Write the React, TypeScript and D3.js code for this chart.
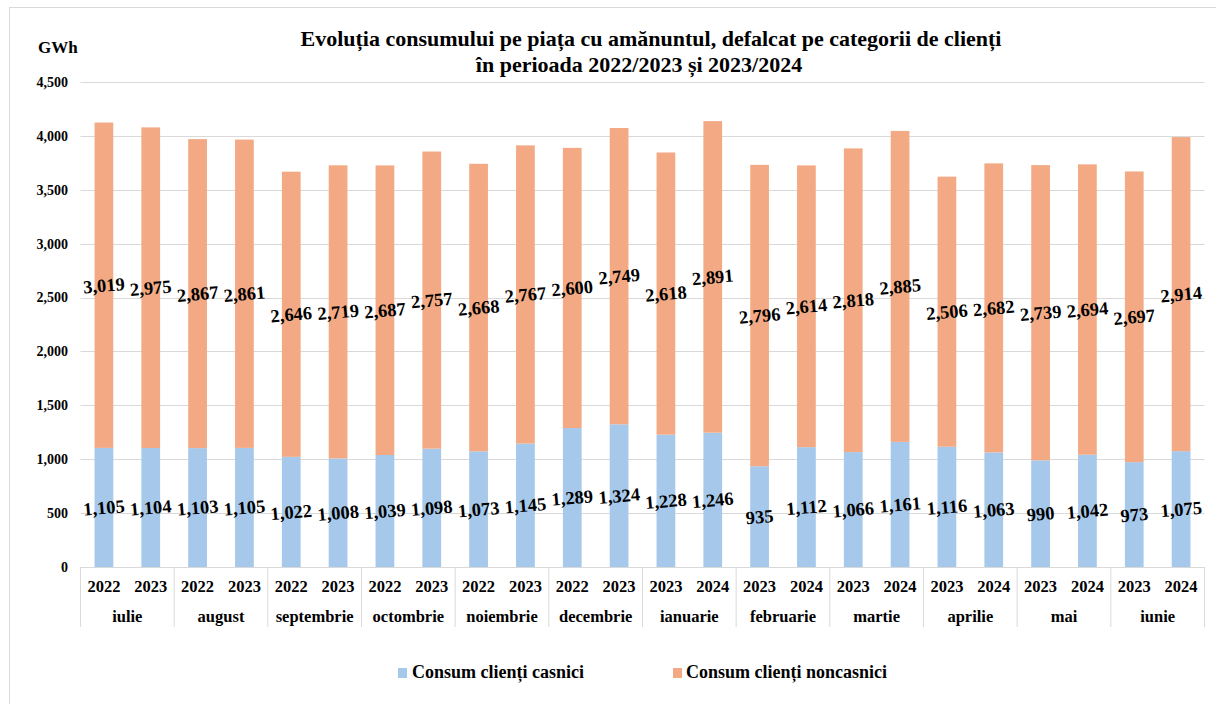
import * as d3 from 'd3';

const months = ['iulie', 'august', 'septembrie', 'octombrie', 'noiembrie', 'decembrie', 'ianuarie', 'februarie', 'martie', 'aprilie', 'mai', 'iunie'];
const years = [
  ['2022', '2023'], ['2022', '2023'], ['2022', '2023'], ['2022', '2023'], ['2022', '2023'], ['2022', '2023'],
  ['2023', '2024'], ['2023', '2024'], ['2023', '2024'], ['2023', '2024'], ['2023', '2024'], ['2023', '2024'],
];
const casnici = [1105, 1104, 1103, 1105, 1022, 1008, 1039, 1098, 1073, 1145, 1289, 1324, 1228, 1246, 935, 1112, 1066, 1161, 1116, 1063, 990, 1042, 973, 1075];
const noncasnici = [3019, 2975, 2867, 2861, 2646, 2719, 2687, 2757, 2668, 2767, 2600, 2749, 2618, 2891, 2796, 2614, 2818, 2885, 2506, 2682, 2739, 2694, 2697, 2914];
const yTicks = [0, 500, 1000, 1500, 2000, 2500, 3000, 3500, 4000, 4500];

const BLUE = '#A5C8EB';
const ORANGE = '#F3AA84';
const FONT = 'Liberation Serif';

export default function App() {
  const left = 80.5;
  const right = 1204.5;
  const top = 82;
  const bottom = 567;

  const keys = casnici.map((_, i) => String(i));
  const x = d3.scaleBand().domain(keys).range([left, right]).paddingInner(0.6).paddingOuter(0.3);
  const y = d3.scaleLinear().domain([0, 4500]).range([bottom, top]);
  const monthX = d3.scaleBand().domain(months).range([left, right]);
  const fmt = d3.format(',');

  const stack = d3.stack<number>().keys(['c', 'n'])
    .value((i, k) => (k === 'c' ? casnici[i] : noncasnici[i]));
  const series = stack(d3.range(casnici.length));
  const colors = [BLUE, ORANGE];

  return (
    <svg width={1216} height={704} style={{ position: 'absolute', left: 0, top: 0 }}>
      <g fontFamily={FONT} fontWeight="bold">
        <rect x={9.5} y={7.5} width={1220} height={720} fill="white" stroke="#d9d9d9" />
        <text x={651} y={46} textAnchor="middle" fontSize={22}>
          Evoluția consumului pe piața cu amănuntul, defalcat pe categorii de clienți
        </text>
        <text x={639} y={72} textAnchor="middle" fontSize={22}>
          în perioada 2022/2023 și 2023/2024
        </text>
        <text x={38} y={53} fontSize={17}>GWh</text>

        {yTicks.map(t => (
          <g key={t}>
            {t > 0 && <line x1={left} x2={right} y1={Math.round(y(t)) + 0.5} y2={Math.round(y(t)) + 0.5} stroke="#d9d9d9" />}
            <text x={68} y={y(t)} dy="0.35em" textAnchor="end" fontSize={14}>{fmt(t)}</text>
          </g>
        ))}

        {series.map((s, si) => (
          <g key={si}>
            {s.map((d, i) => (
              <rect key={i} x={x(String(i))} width={x.bandwidth()} y={y(d[1])} height={y(d[0]) - y(d[1])} fill={colors[si]} />
            ))}
          </g>
        ))}

        {series.map((s, si) => (
          <g key={'l' + si}>
            {s.map((d, i) => {
              const cx = (x(String(i)) as number) + x.bandwidth() / 2;
              const cy = y((d[0] + d[1]) / 2);
              return (
                <text key={i} transform={`translate(${cx},${cy}) rotate(-5)`} textAnchor="middle" dy="0.35em" fontSize={18.5}>
                  {fmt(d[1] - d[0])}
                </text>
              );
            })}
          </g>
        ))}

        <line x1={left} x2={right} y1={bottom + 0.5} y2={bottom + 0.5} stroke="#d9d9d9" />
        {months.map(m => {
          const mx = monthX(m) as number;
          return (
            <g key={m}>
              <line x1={mx} x2={mx} y1={bottom} y2={627} stroke="#d9d9d9" />
              <text x={mx + monthX.bandwidth() / 2} y={622} textAnchor="middle" fontSize={16.5}>{m}</text>
            </g>
          );
        })}
        <line x1={right} x2={right} y1={bottom} y2={627} stroke="#d9d9d9" />
        {keys.map((k, i) => (
          <text key={k} x={(x(k) as number) + x.bandwidth() / 2} y={592} textAnchor="middle" fontSize={16.5}>
            {years[Math.floor(i / 2)][i % 2]}
          </text>
        ))}

        <rect x={398} y={668} width={9} height={10} fill={BLUE} />
        <text x={412} y={678} fontSize={18}>Consum clienți casnici</text>
        <rect x={673} y={668} width={9} height={10} fill={ORANGE} />
        <text x={686} y={678} fontSize={18}>Consum clienți noncasnici</text>
      </g>
    </svg>
  );
}
